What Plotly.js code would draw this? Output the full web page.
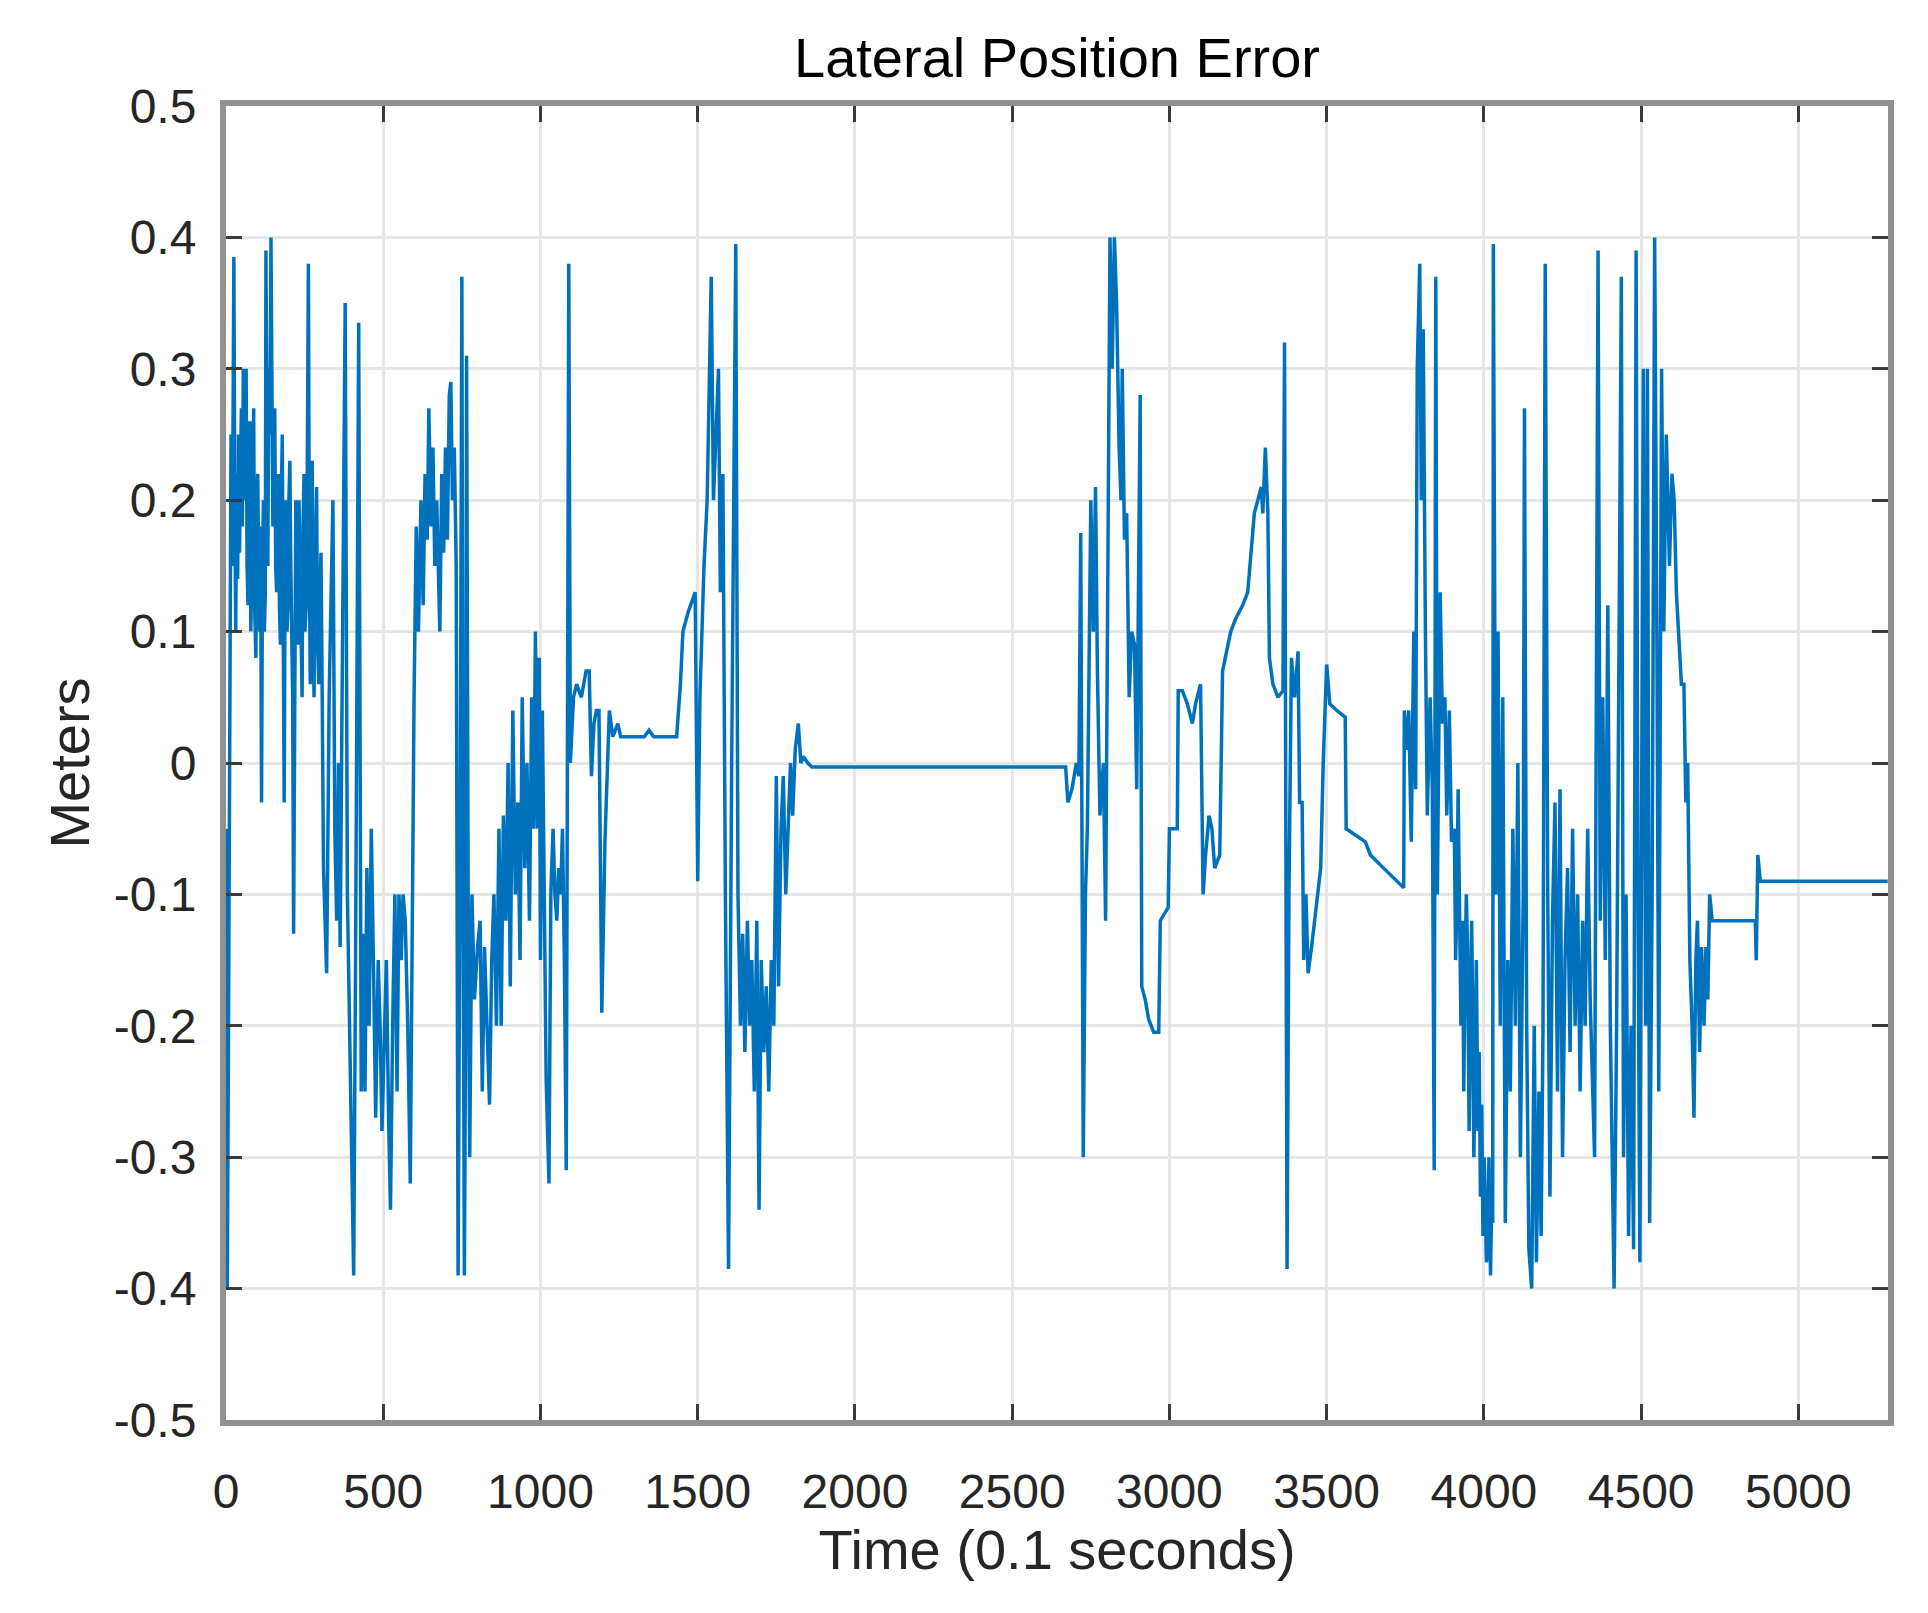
<!DOCTYPE html>
<html>
<head>
<meta charset="utf-8">
<script src="https://cdn.plot.ly/plotly-3.0.1.min.js"></script>
<style>
  html, body { margin: 0; padding: 0; background: #ffffff; }
  #chart { width: 1928px; height: 1613px; }
</style>
</head>
<body>
<div id="chart"></div>
<script>
// ---- Data ----
const timeSteps = [
  0, 4, 8, 12, 16, 20, 25, 28, 31, 34,
  37, 40, 43, 46, 49, 52, 55, 58, 61, 64,
  67, 70, 73, 76, 79, 82, 85, 88, 91, 95,
  98, 101, 104, 107, 110, 113, 116, 119, 122, 125,
  127, 130, 133, 136, 140, 143, 146, 149, 152, 155,
  158, 161, 164, 167, 170, 173, 176, 179, 182, 185,
  188, 191, 194, 197, 200, 203, 206, 209, 212, 215,
  218, 222, 225, 228, 232, 236, 239, 242, 245, 248,
  251, 255, 258, 262, 265, 268, 271, 274, 277, 280,
  284, 288, 291, 295, 298, 302, 306, 310,
  320, 328, 340, 346, 352, 358, 363, 370, 379,
  386, 392, 400, 406, 412, 422, 430, 436, 442, 448, 455, 462, 470, 476, 484, 490, 496, 503, 510, 517,
  523, 530, 537, 544, 550, 557, 563, 570, 578, 586, 592, 598, 605, 612, 620, 627, 633, 640, 645, 652,
  658, 664, 670, 676, 680, 686, 692, 698, 704, 710, 715, 720, 726, 732, 738, 744, 750, 754, 758, 762,
  765, 770, 775, 782, 790, 800,
  808, 815, 822, 830, 838, 845, 852, 860, 868, 875, 882, 890, 897, 904, 912, 920, 928, 935, 942, 950,
  957, 965, 972, 978, 984, 990, 996, 1000, 1006, 1012, 1018, 1027, 1033, 1040, 1046, 1052, 1058, 1064, 1070, 1076,
  1082, 1090, 1095, 1105,
  1115, 1130, 1145, 1155, 1162, 1170, 1178, 1186, 1195, 1205, 1212, 1219, 1230, 1246, 1255, 1300, 1330, 1345, 1360, 1380,
  1433, 1445, 1453, 1470, 1492, 1500,
  1507, 1520, 1530, 1543, 1550, 1558, 1566, 1572, 1580, 1588, 1598, 1608, 1615, 1621, 1628, 1636, 1643, 1650, 1658, 1665,
  1672, 1680, 1688, 1695, 1702, 1710, 1718, 1726, 1734, 1742, 1750, 1757, 1765, 1772, 1780, 1788, 1795, 1802, 1810, 1820,
  1828, 1836, 1850, 1863,
  2670, 2677, 2690, 2704, 2712, 2718, 2726, 2733, 2739, 2750, 2758, 2765, 2771, 2779, 2790, 2797, 2803, 2811, 2818, 2825,
  2832, 2840, 2846, 2850, 2857, 2864, 2872, 2880, 2889, 2896, 2907, 2912, 2923, 2934, 2950, 2966, 2971, 2996, 3000, 3025,
  3028, 3041, 3057, 3073, 3083, 3099, 3107, 3115, 3126, 3135, 3144, 3160, 3169, 3182, 3195, 3211, 3233, 3249, 3260, 3270,
  3281, 3292, 3297, 3305, 3313, 3318, 3329, 3345, 3361, 3366, 3374, 3380, 3388, 3398, 3409, 3414, 3422, 3427, 3434, 3441,
  3452, 3462, 3473, 3481, 3489, 3500, 3510, 3532, 3559, 3562, 3623, 3639, 3681, 3745, 3747, 3754, 3761, 3769, 3777, 3783,
  3788, 3796, 3801, 3807, 3814, 3820, 3829, 3836, 3842, 3847, 3852, 3861, 3868, 3876, 3882, 3890, 3897,
  3906, 3910, 3914, 3918, 3922, 3927, 3932, 3936, 3940, 3944,
  3948, 3953, 3957, 3961, 3964, 3968, 3972, 3976, 3981, 3985,
  3989, 3993, 3997, 4001, 4004, 4008, 4012, 4016, 4021, 4025, 4028,
  4030, 4038, 4045, 4052, 4060, 4068, 4076, 4084, 4092, 4100, 4108, 4116, 4125, 4129, 4136, 4143, 4152, 4160, 4167, 4175,
  4182, 4188, 4195, 4203, 4210, 4218, 4226, 4234, 4242, 4250, 4258, 4266, 4274, 4282, 4290, 4298, 4306, 4314, 4322, 4330,
  4338, 4345, 4352, 4363, 4370, 4378, 4386, 4394, 4402, 4408, 4414, 4422, 4430, 4437, 4444, 4452, 4460, 4468, 4476, 4484,
  4490, 4496, 4507, 4514, 4520, 4527, 4535, 4543, 4550, 4556, 4565, 4572, 4580, 4590, 4598, 4605, 4612, 4620, 4628, 4636,
  4642, 4648, 4655, 4662, 4668, 4674, 4679, 4686, 4692, 4700, 4706, 4712, 4718, 4726, 4734, 4863, 4866, 4871, 4879, 5284
];

const lateralError = [
  -0.05, -0.40, -0.20, 0.10, 0.25, 0.15, 0.385, 0.20, 0.10, 0.22,
  0.14, 0.25, 0.16, 0.22, 0.27, 0.18, 0.30, 0.20, 0.26, 0.30,
  0.15, 0.12, 0.22, 0.26, 0.10, 0.15, 0.24, 0.27, 0.12, 0.08,
  0.20, 0.22, 0.14, 0.10, 0.18, -0.03, 0.15, 0.20, 0.10, 0.13,
  0.39, 0.20, 0.15, 0.30, 0.25, 0.40, 0.20, 0.18, 0.25, 0.27,
  0.15, 0.13, 0.20, 0.22, 0.12, 0.09, 0.20, 0.25, 0.10, -0.03,
  0.15, 0.20, 0.10, 0.12, 0.20, 0.23, 0.15, 0.10, 0.05, -0.13,
  0.10, 0.20, 0.15, 0.09, 0.20, 0.15, 0.08, 0.05, 0.18, 0.22,
  0.10, 0.12, 0.20, 0.38, 0.15, 0.06, 0.18, 0.23, 0.10, 0.05,
  0.15, 0.21, 0.10, 0.06, 0.12, 0.16, 0.05, -0.08,
  -0.16, 0.05, 0.20, -0.05, -0.12, 0.00, -0.14, 0.10, 0.35,
  -0.10, -0.20, -0.30, -0.39, -0.15, 0.335, -0.25, -0.13, -0.25, -0.08, -0.20, -0.05, -0.17, -0.27, -0.15, -0.20, -0.28, -0.22, -0.15, -0.27,
  -0.34, -0.20, -0.10, -0.25, -0.10, -0.15, -0.10, -0.12, -0.20, -0.32, -0.10, 0.05, 0.18, 0.10, 0.20, 0.12, 0.22, 0.17, 0.27, 0.18,
  0.24, 0.15, 0.20, 0.13, 0.10, 0.22, 0.16, 0.24, 0.17, 0.28, 0.29, 0.20, 0.24, 0.15, -0.39, -0.10, 0.37, -0.10, -0.39, -0.20,
  0.31, -0.10, -0.30, -0.10, -0.18, -0.14,
  -0.12, -0.25, -0.14, -0.20, -0.26, -0.15, -0.10, -0.20, -0.05, -0.20, -0.04, -0.12, 0.00, -0.17, 0.04, -0.10, -0.03, -0.15, 0.05, -0.08,
  0.00, -0.12, 0.05, -0.05, 0.10, -0.05, 0.08, -0.15, 0.04, -0.10, -0.24, -0.32, -0.10, -0.05, -0.10, -0.12, -0.08, -0.10, -0.05, -0.15,
  -0.31, 0.38, 0.00, 0.05,
  0.06, 0.05, 0.07, 0.07, -0.01, 0.03, 0.04, 0.04, -0.19, -0.06, 0.00, 0.04, 0.02, 0.03, 0.02, 0.02, 0.02, 0.025, 0.02, 0.02,
  0.02, 0.06, 0.10, 0.115, 0.13, -0.09,
  0.05, 0.15, 0.20, 0.37, 0.20, 0.25, 0.30, 0.13, 0.22, -0.10, -0.385, 0.00, 0.20, 0.395, -0.10, -0.20, -0.13, -0.22, -0.12, -0.20,
  -0.15, -0.25, -0.12, -0.34, -0.15, -0.22, -0.17, -0.25, -0.15, -0.20, -0.01, -0.17, -0.05, -0.01, -0.10, -0.05, 0.00, -0.04, 0.01, 0.03,
  0.00, 0.005, 0.00, -0.003,
  -0.003, -0.03, -0.02, 0.00, -0.01, 0.175, -0.30, -0.10, -0.05, 0.20, 0.10, 0.21, 0.07, -0.04, 0.00, -0.12, 0.10, 0.40, 0.30, 0.40,
  0.35, 0.24, 0.20, 0.30, 0.17, 0.19, 0.05, 0.10, 0.09, -0.02, 0.28, -0.17, -0.18, -0.195, -0.205, -0.205, -0.12, -0.11, -0.05, -0.05,
  0.055, 0.055, 0.045, 0.03, 0.045, 0.06, -0.10, -0.07, -0.04, -0.05, -0.08, -0.07, 0.07, 0.085, 0.10, 0.11, 0.12, 0.13, 0.16, 0.19,
  0.20, 0.21, 0.19, 0.24, 0.19, 0.08, 0.06, 0.05, 0.055, 0.32, -0.385, -0.10, 0.08, 0.05, 0.085, -0.03, -0.03, -0.15, -0.10, -0.16,
  -0.14, -0.12, -0.10, -0.08, 0.00, 0.075, 0.045, 0.04, 0.035, -0.05, -0.06, -0.07, -0.08, -0.095, 0.04, 0.01, 0.04, -0.06, 0.10, -0.02,
  0.30, 0.38, 0.20, 0.33, 0.10, -0.04, 0.05, -0.02, -0.31, 0.37, -0.10, 0.13, 0.03, 0.05, -0.04, 0.04, -0.06,
  -0.05, -0.15, -0.11, -0.02, -0.13, -0.20, -0.12, -0.25, -0.16, -0.10,
  -0.14, -0.28, -0.20, -0.12, -0.18, -0.30, -0.24, -0.15, -0.28, -0.22,
  -0.33, -0.26, -0.36, -0.30, -0.33, -0.38, -0.37, -0.30, -0.39, -0.33, -0.35,
  0.395, -0.10, 0.10, -0.20, 0.05, -0.35, -0.15, -0.25, -0.05, -0.20, 0.00, -0.30, -0.10, 0.27, -0.20, -0.37, -0.40, -0.20, -0.38, -0.25,
  -0.36, -0.20, 0.38, -0.10, -0.33, -0.12, -0.03, -0.25, -0.02, -0.30, -0.15, -0.08, -0.22, -0.05, -0.20, -0.10, -0.25, -0.12, -0.20, -0.05,
  -0.18, -0.24, -0.30, 0.39, -0.12, 0.05, -0.15, 0.12, -0.20, -0.30, -0.40, -0.20, 0.10, 0.37, -0.30, -0.10, -0.36, -0.20, -0.37, 0.39,
  -0.10, -0.38, 0.30, -0.20, 0.30, -0.35, -0.10, 0.40, 0.10, -0.25, 0.30, 0.10, 0.25, 0.15, 0.22, 0.20, 0.13, 0.10, 0.06, 0.06,
  -0.03, 0.00, -0.15, -0.20, -0.27, -0.15, -0.12, -0.22, -0.14, -0.20, -0.14, -0.18, -0.10, -0.12, -0.12, -0.12, -0.15, -0.07, -0.09, -0.09
];

const xTickVals = [0, 500, 1000, 1500, 2000, 2500, 3000, 3500, 4000, 4500, 5000];
const xTickText = ['0', '500', '1000', '1500', '2000', '2500', '3000', '3500', '4000', '4500', '5000'];
const yTickVals = [-0.5, -0.4, -0.3, -0.2, -0.1, 0, 0.1, 0.2, 0.3, 0.4, 0.5];
const yTickText = ['-0.5', '-0.4', '-0.3', '-0.2', '-0.1', '0', '0.1', '0.2', '0.3', '0.4', '0.5'];

const chartTitle = 'Lateral Position Error';
const xTitle = 'Time (0.1 seconds)';
const yTitle = 'Meters';

// ---- Chart ----
const FONT = 'Liberation Sans, Arial, Helvetica, sans-serif';

const trace = {
  type: 'scatter',
  mode: 'lines',
  x: timeSteps,
  y: lateralError,
  line: { color: '#0072BD', width: 3.5 },
  hoverinfo: 'x+y'
};

const axisCommon = {
  showline: true,
  linecolor: '#909090',
  linewidth: 6,
  mirror: 'ticks',
  ticks: 'inside',
  ticklen: 16,
  tickwidth: 3,
  tickcolor: '#3a3a3a',
  showgrid: true,
  gridcolor: '#e6e6e6',
  gridwidth: 3,
  zeroline: false,
  tickfont: { family: FONT, size: 48, color: '#262626' },
  tickmode: 'array'
};

const layout = {
  width: 1928,
  height: 1613,
  paper_bgcolor: '#ffffff',
  plot_bgcolor: '#ffffff',
  showlegend: false,
  margin: { l: 226, r: 40, t: 106, b: 193, pad: 0 },
  title: {
    text: chartTitle,
    font: { family: FONT, size: 56, color: '#000000' },
    x: 0.5, xref: 'paper', xanchor: 'center',
    y: 1 - 57 / 1613, yref: 'container', yanchor: 'middle'
  },
  xaxis: Object.assign({}, axisCommon, {
    range: [0, 5285],
    tickvals: xTickVals,
    ticktext: xTickText,
    ticklabelstandoff: 24,
    title: { text: xTitle, font: { family: FONT, size: 56, color: '#262626' }, standoff: 14 }
  }),
  yaxis: Object.assign({}, axisCommon, {
    range: [-0.5, 0.5],
    tickvals: yTickVals,
    ticktext: yTickText,
    ticklabelstandoff: 14,
    title: { text: yTitle, font: { family: FONT, size: 56, color: '#262626' }, standoff: 8 }
  })
};

Plotly.newPlot('chart', [trace], layout, { displayModeBar: false, staticPlot: true });
</script>
</body>
</html>
